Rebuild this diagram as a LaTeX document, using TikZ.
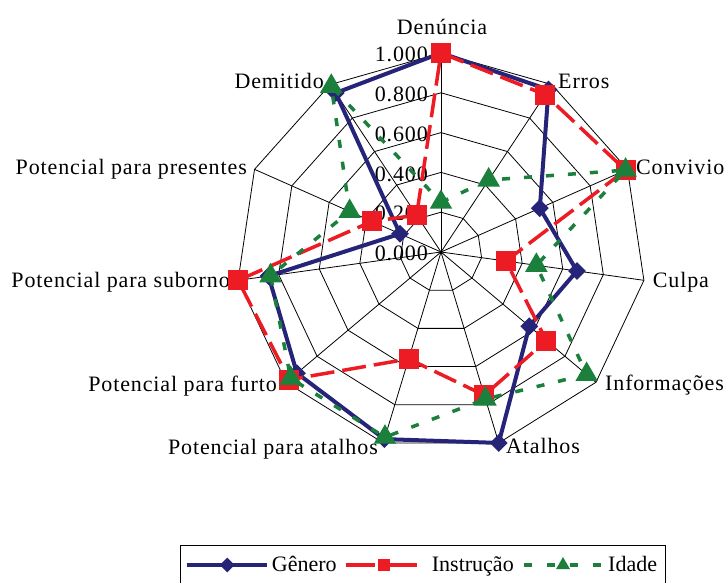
\documentclass[tikz,border=0pt]{standalone}
\usepackage{fontspec}
\setmainfont{Liberation Serif}
\newfontfamily\lblfont[LetterSpace=4]{Liberation Serif}
\usetikzlibrary{shapes.geometric,calc}
\definecolor{navyc}{RGB}{38,36,120}
\definecolor{redc}{RGB}{237,28,36}
\definecolor{greenc}{RGB}{26,128,60}
\begin{document}
\begin{tikzpicture}[x=1pt,y=1pt,
  grid/.style={black, line width=0.8pt},
  lbl/.style={font=\fontsize{22}{26}\selectfont\lblfont, inner sep=0pt},
  leg/.style={font=\fontsize{22}{26}\selectfont, inner sep=0pt},
  genline/.style={navyc, line width=4pt, line join=round},
  insline/.style={redc, line width=3.5pt, dash pattern=on 24pt off 8pt},
  idaline/.style={greenc, line width=3.5pt, dash pattern=on 8pt off 14pt},
  genmark/.style={diamond, fill=navyc, minimum size=18pt, inner sep=0pt},
  insmark/.style={rectangle, fill=redc, minimum size=20pt, inner sep=0pt},
  idamark/.style={regular polygon, regular polygon sides=3, fill=greenc, minimum size=26pt, inner sep=0pt},
]
\useasboundingbox (0,0) rectangle (728,582);
\fill[white] (0,0) rectangle (728,582);
\def\cx{441}\def\cy{330}\def\rx{205}\def\ry{199}
\coordinate (c) at (\cx,\cy);
\foreach \k in {0,...,10} {
  \pgfmathsetmacro\ang{90-\k*360/11}
  \coordinate (ax\k) at ({\cx+\rx*cos(\ang)},{\cy+\ry*sin(\ang)});
}
% grid rings and spokes
\foreach \v in {0.2,0.4,0.6,0.8,1.0} {
  \draw[grid] ($(c)!\v!(ax0)$) \foreach \k in {1,...,10} { -- ($(c)!\v!(ax\k)$) } -- cycle;
}
\foreach \k in {0,...,10} { \draw[grid] (c) -- (ax\k); }
% tick labels
\foreach \v/\t [count=\i from 0] in {0.0/0.000,0.2/0.200,0.4/0.400,0.6/0.600,0.8/0.800,1.0/1.000} {
  \node[lbl, anchor=base east] (tick\i) at (428,{321.3+199*\v}) {\t};
}
% axis labels
\node[lbl, anchor=base] (lDen) at (442,547.7) {Denúncia};
\node[lbl, anchor=base west] (lErr) at (558,493.7) {Erros};
\node[lbl, anchor=base west] (lCon) at (636,407.7) {Convivio};
\node[lbl, anchor=base west] (lCul) at (652.7,294.3) {Culpa};
\node[lbl, anchor=base west] (lInf) at (605,191.3) {Informações};
\node[lbl, anchor=base west] (lAta) at (506,128.7) {Atalhos};
\node[lbl, anchor=base east] (lPat) at (378,127.7) {Potencial para atalhos};
\node[lbl, anchor=base east] (lPfu) at (277,190.3) {Potencial para furto};
\node[lbl, anchor=base east] (lPsu) at (230,294.7) {Potencial para suborno};
\node[lbl, anchor=base east] (lPpr) at (247,407.7) {Potencial para presentes};
\node[lbl, anchor=base east] (lDem) at (324,493.7) {Demitido};
% data points
\foreach \pre/\vals in {g/{1.0,0.97,0.53,0.67,0.57,1.0,0.98,0.93,0.85,0.22,0.95},
                        r/{1.0,0.94,0.99,0.32,0.68,0.75,0.56,0.98,1.0,0.37,0.22},
                        t/{0.25,0.43,0.99,0.47,0.94,0.77,0.97,0.97,0.84,0.49,0.99}} {
  \foreach \v [count=\k from 0] in \vals {
    \coordinate (\pre\k) at ($(c)!\v!(ax\k)$);
  }
}
% Genero
\draw[genline] (g0) \foreach \k in {1,...,10} { -- (g\k) } -- cycle;
\foreach \k in {0,...,10} { \node[genmark] (gm\k) at (g\k) {}; }
% Instrucao
\draw[insline] (r0) \foreach \k in {1,...,10} { -- (r\k) } -- cycle;
\foreach \k in {0,...,10} { \node[insmark] (rm\k) at (r\k) {}; }
% Idade
\draw[idaline] (t0) \foreach \k in {1,...,10} { -- (t\k) } -- cycle;
\foreach \k in {0,...,10} { \node[idamark] (tm\k) at (t\k) {}; }
% legend
\coordinate (bx1) at (180,-5); \coordinate (bx2) at (180,37);
\coordinate (bx3) at (665,37); \coordinate (bx4) at (665,-5);
\draw[black, line width=0.8pt] (bx1) -- (bx2) -- (bx3) -- (bx4);
\coordinate (lg1) at (186.7,17); \coordinate (lg2) at (266.7,17);
\draw[navyc, line width=3.3pt] (lg1) -- (lg2);
\node[genmark, minimum size=15pt] (lgm) at (227.3,17) {};
\node[leg, anchor=base west] (lgt) at (271.7,10.3) {Gênero};
\coordinate (lr1) at (346,17); \coordinate (lr2) at (416.7,17);
\draw[redc, line width=3.5pt, dash pattern=on 29pt off 15pt] (lr1) -- (lr2);
\node[insmark, minimum size=12pt] (lrm) at (384,17) {};
\node[leg, anchor=base west] (lrt) at (431.7,10.3) {Instrução};
\coordinate (li1) at (524,17); \coordinate (li2) at (603,17);
\draw[greenc, line width=3.5pt, dash pattern=on 8pt off 15pt] (li1) -- (li2);
\node[idamark, minimum size=16pt] (lim) at (563,17) {};
\node[leg, anchor=base west] (lit) at (608,10.3) {Idade};
\end{tikzpicture}
\end{document}
